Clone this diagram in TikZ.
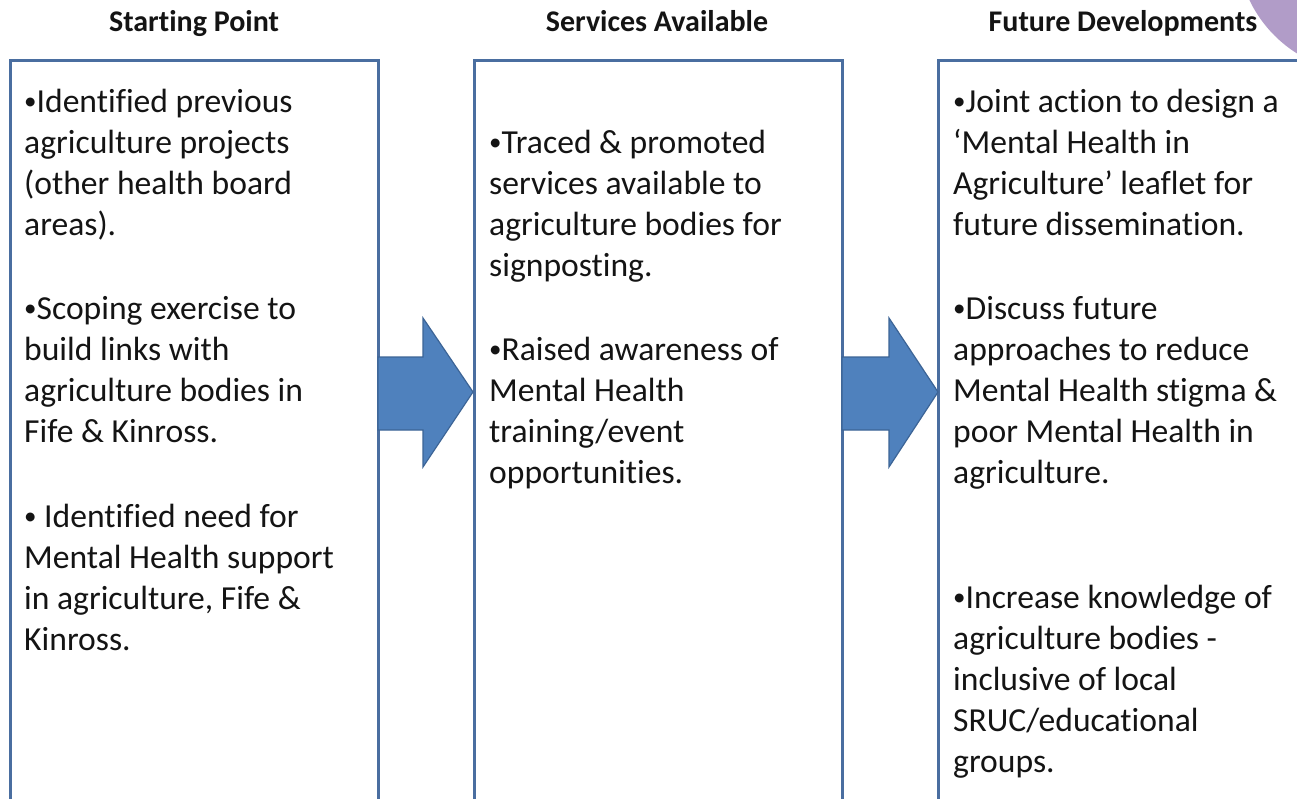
\documentclass[tikz,border=0pt]{standalone}
\usepackage{fontspec}
\setmainfont{Carlito}[Ligatures=NoCommon]
\definecolor{boxblue}{RGB}{74,110,160}
\definecolor{arrfill}{RGB}{79,129,189}
\definecolor{arrline}{RGB}{60,100,150}
\definecolor{lilac}{RGB}{177,156,200}
\definecolor{txt}{RGB}{20,20,20}
\newcommand{\fs}{\rule{0pt}{28pt}}
\newcommand{\bul}{\raisebox{2.5pt}{\fontsize{25}{41}\selectfont•}}
\tikzset{
  colbox/.style={draw=boxblue, line width=3pt},
  head/.style={anchor=base, font=\fontsize{30}{36}\selectfont\bfseries, text=txt, inner sep=0},
  para/.style={anchor=north west, inner sep=0, align=left, text=txt, font=\fontsize{33.6}{41}\selectfont},
  blockarrow/.style={fill=arrfill, draw=arrline, line width=1.2pt, line join=miter}
}
\begin{document}
\begin{tikzpicture}[x=1pt,y=-1pt]
\clip (0,0) rectangle (1297,798);
\fill[white] (0,0) rectangle (1297,798);
% purple corner
\fill[lilac] (1365,-55) circle (128);
% headings
\node[head] (h1) at (194,31) {Starting Point};
\node[head] (h2) at (657,31) {Services Available};
\node[head] (h3) at (1123,31) {Future Developments};
% boxes
\draw[colbox] (10,60) rectangle (378,830);
\draw[colbox] (474,60) rectangle (842,830);
\draw[colbox] (938,60) rectangle (1320,830);
% arrows
\draw[blockarrow] (378,357) -- (423,357) -- (423,318) -- (473,392) -- (423,467) -- (423,430) -- (378,430) -- cycle;
\draw[blockarrow] (842,357) -- (889,357) -- (889,318) -- (938,392) -- (889,467) -- (889,430) -- (842,430) -- cycle;
% left column
\node[para] (l1) at (24,84) {\fs\bul Identified previous\\agriculture projects\\(other health board\\areas).};
\node[para] (l2) at (24,291) {\fs\bul Scoping exercise to\\build links with\\agriculture bodies in\\Fife \& Kinross.};
\node[para] (l3) at (24,499) {\fs\bul\ Identified need for\\Mental Health support\\in agriculture, Fife \&\\Kinross.};
% middle column
\node[para] (m1) at (489,125) {\fs\bul Traced \& promoted\\services available to\\agriculture bodies for\\signposting.};
\node[para] (m2) at (489,332) {\fs\bul Raised awareness of\\Mental Health\\training/event\\opportunities.};
% right column
\node[para] (r1) at (953,84) {\fs\bul Joint action to design a\\‘Mental Health in\\Agriculture’ leaflet for\\future dissemination.};
\node[para] (r2) at (953,291) {\fs\bul Discuss future\\approaches to reduce\\Mental Health stigma \&\\poor Mental Health in\\agriculture.};
\node[para] (r3) at (953,580) {\fs\bul Increase knowledge of\\agriculture bodies -\\inclusive of local\\SRUC/educational\\groups.};
\end{tikzpicture}
\end{document}
